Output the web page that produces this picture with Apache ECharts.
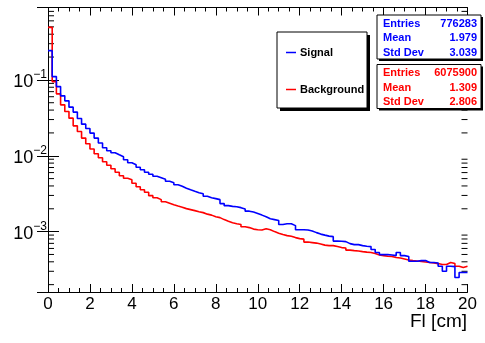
<!DOCTYPE html>
<html>
<head>
<meta charset="utf-8">
<script src="https://cdn.jsdelivr.net/npm/echarts@6/dist/echarts.min.js"></script>
<style>
html, body { margin: 0; padding: 0; background: #fff; }
#chart { width: 485px; height: 343px; }
</style>
</head>
<body>
<div id="chart"></div>
<script>
// 100 bins of 0.2 cm, from 0 to 20 cm (normalised histograms)
const binWidth = 0.2;
const xMin = 0, xMax = 20;
const yMin = 1.6e-4, yMax = 0.9;

const signal = [
  0.243, 0.1105, 0.0816, 0.0616, 0.0529, 0.0437, 0.0376, 0.0310, 0.0261, 0.0229,
  0.0199, 0.0171, 0.0147, 0.01274, 0.01164, 0.01094, 0.0103, 0.0097, 0.00886, 0.00809,
  0.00762, 0.00706, 0.00655, 0.00607, 0.00571, 0.00537, 0.00514, 0.00491, 0.00462, 0.00441,
  0.00415, 0.00397, 0.00374, 0.00357, 0.00341, 0.00326, 0.00316, 0.00293, 0.0028, 0.00272,
  0.00264, 0.00234, 0.0022, 0.00215, 0.00213, 0.00207, 0.00198, 0.00186, 0.00181, 0.00173,
  0.00165, 0.00157, 0.00148, 0.00144, 0.0014, 0.00124, 0.00127, 0.00127, 0.0012, 0.00106,
  0.00106, 0.00105, 0.00102, 0.00097, 0.000927, 0.000899, 0.000873, 0.000859, 0.00075, 0.000745,
  0.000738, 0.000695, 0.000674, 0.000674, 0.000654, 0.000641, 0.000635, 0.00058, 0.00053, 0.000498,
  0.000498, 0.000491, 0.000483, 0.00053, 0.000483, 0.000469, 0.000406, 0.000406, 0.000415, 0.000415,
  0.000391, 0.000391, 0.000385, 0.000349, 0.0003, 0.000349, 0.000346, 0.000248, 0.000289, 0.000289
];

const background = [
  0.493, 0.095, 0.0655, 0.0469, 0.0383, 0.0313, 0.0248, 0.0209, 0.0171, 0.0144,
  0.01225, 0.01062, 0.00941, 0.00834, 0.0075, 0.00675, 0.00607, 0.00546, 0.00506, 0.00483,
  0.00435, 0.00391, 0.00357, 0.00331, 0.00298, 0.0028, 0.00264, 0.00248, 0.00237, 0.00226,
  0.00217, 0.0021, 0.00201, 0.00195, 0.00189, 0.00183, 0.00178, 0.0017, 0.00165, 0.00157,
  0.00153, 0.00144, 0.00137, 0.00131, 0.00127, 0.00124, 0.00116, 0.00113, 0.00108, 0.00106,
  0.00105, 0.00109, 0.00106, 0.001, 0.000955, 0.000914, 0.000886, 0.000868, 0.000834, 0.000809,
  0.000796, 0.000728, 0.000717, 0.000706, 0.000685, 0.000664, 0.000654, 0.000654, 0.000635, 0.000616,
  0.000607, 0.000571, 0.000562, 0.000554, 0.000545, 0.000537, 0.00053, 0.000514, 0.000491, 0.000483,
  0.000473, 0.000469, 0.000455, 0.000448, 0.000435, 0.000422, 0.000415, 0.000409, 0.000403, 0.000397,
  0.000391, 0.000385, 0.000379, 0.000368, 0.000368, 0.000391, 0.000379, 0.000349, 0.000336, 0.000349
];

const statNames = ['Entries', 'Mean', 'Std Dev'];
const signalStats = ['776283', '1.979', '3.039'];
const backgroundStats = ['6075900', '1.309', '2.806'];

const FONT = '"Liberation Sans", Arial, Helvetica, sans-serif';

// histogram -> step line points (left bin edges + closing point)
function toSteps(values) {
  const pts = values.map((v, i) => [+(i * binWidth).toFixed(2), v]);
  pts.push([xMax, values[values.length - 1]]);
  return pts;
}

// ROOT style minor ticks 2..9 per decade
const yMinorTicks = [];
for (let e = -4; e <= -1; e++) {
  for (let m = 2; m <= 9; m++) {
    const v = m * Math.pow(10, e);
    if (v > yMin && v < yMax) yMinorTicks.push([xMin, v]);
  }
}

// ROOT pave: white box with a black shadow offset behind it
function pave(x, y, w, h, off, z) {
  return [
    { type: 'rect', z: z, shape: { x: x + off, y: y + off, width: w, height: h }, style: { fill: '#000' } },
    { type: 'rect', z: z + 1, shape: { x: x, y: y, width: w, height: h }, style: { fill: '#fff', stroke: '#000', lineWidth: 1 } }
  ];
}

function statBox(top, values, color) {
  const children = pave(377, top, 104, 44, 2, 100);
  statNames.forEach((name, i) => {
    const y = top + 8.5 + i * 14.5;
    children.push({ type: 'text', z: 102, x: 383, y: y, style: { text: name, fill: color, font: 'bold 11px ' + FONT, textAlign: 'left', textVerticalAlign: 'middle' } });
    children.push({ type: 'text', z: 102, x: 477, y: y, style: { text: values[i], fill: color, font: 'bold 11px ' + FONT, textAlign: 'right', textVerticalAlign: 'middle' } });
  });
  return { type: 'group', children: children };
}

function yLabel(value) {
  const lg = Math.log10(value);
  const e = Math.round(lg);
  if (Math.abs(lg - e) > 1e-6) return '';
  return '{b|10}{s|' + (e < 0 ? '\u2212' + (-e) : e) + '}';
}

const chart = echarts.init(document.getElementById('chart'));

const xAxisBase = {
  type: 'value', min: xMin, max: xMax, interval: 2,
  axisLine: { show: true, lineStyle: { color: '#000', width: 1 } },
  axisTick: { inside: true, length: 8, lineStyle: { color: '#000' } },
  minorTick: { show: true, splitNumber: 4, length: 4, lineStyle: { color: '#000' } },
  splitLine: { show: false }
};
const yAxisBase = {
  type: 'log', logBase: 10, min: yMin, max: yMax,
  axisLine: { show: true, lineStyle: { color: '#000', width: 1 } },
  axisTick: { inside: true, length: 11, lineStyle: { color: '#000' } },
  splitLine: { show: false }
};

const option = {
  animation: false,
  backgroundColor: '#fff',
  grid: { left: 48, right: 17.5, top: 7.5, bottom: 51 },
  xAxis: [
    Object.assign({}, xAxisBase, {
      position: 'bottom',
      axisLabel: { color: '#000', fontSize: 17, fontFamily: FONT, margin: 4 }
    }),
    Object.assign({}, xAxisBase, { position: 'top', axisLabel: { show: false } })
  ],
  yAxis: [
    Object.assign({}, yAxisBase, {
      position: 'left',
      axisLabel: {
        margin: 1, showMinLabel: false, showMaxLabel: false,
        formatter: yLabel,
        rich: {
          b: { fontSize: 18, fontFamily: FONT, color: '#000', padding: [4, 0, 0, 0] },
          s: { fontSize: 12, fontFamily: FONT, color: '#000', verticalAlign: 'top' }
        }
      }
    }),
    Object.assign({}, yAxisBase, { position: 'right', axisLabel: { show: false } })
  ],
  legend: {
    data: ['Signal', 'Background'],
    orient: 'vertical',
    left: 277, top: 33,
    padding: [14, 5, 14, 9],
    itemGap: 26,
    itemWidth: 10, itemHeight: 1.5,
    icon: 'rect',
    textStyle: { color: '#000', fontSize: 11, fontWeight: 'bold', fontFamily: FONT, padding: [0, 0, 0, -1] },
    selectedMode: false,
    z: 60
  },
  series: [
    {
      name: 'Background', type: 'line', step: 'end', showSymbol: false,
      data: toSteps(background),
      lineStyle: { color: '#ff0000', width: 1.6 }, itemStyle: { color: '#ff0000' }
    },
    {
      name: 'Signal', type: 'line', step: 'end', showSymbol: false,
      data: toSteps(signal),
      lineStyle: { color: '#0000ff', width: 1.6 }, itemStyle: { color: '#0000ff' }
    },
    {
      name: 'yMinor', type: 'custom', silent: true,
      data: yMinorTicks,
      renderItem: function (params, api) {
        const v = api.value(1);
        const l = api.coord([xMin, v]);
        const r = api.coord([xMax, v]);
        return {
          type: 'group',
          children: [
            { type: 'line', shape: { x1: l[0], y1: l[1], x2: l[0] + 6, y2: l[1] }, style: { stroke: '#000', lineWidth: 1 } },
            { type: 'line', shape: { x1: r[0] - 6, y1: r[1], x2: r[0], y2: r[1] }, style: { stroke: '#000', lineWidth: 1 } }
          ]
        };
      }
    }
  ],
  graphic: [
    { type: 'group', children: pave(277, 32, 90, 76, 3, 40) },
    statBox(15, signalStats, '#0000ff'),
    statBox(64.5, backgroundStats, '#ff0000'),
    {
      type: 'text', x: 467, y: 322,
      style: { text: 'Fl [cm]', fill: '#000', font: '19px ' + FONT, textAlign: 'right', textVerticalAlign: 'middle' }
    }
  ]
};

chart.setOption(option);
</script>
</body>
</html>
